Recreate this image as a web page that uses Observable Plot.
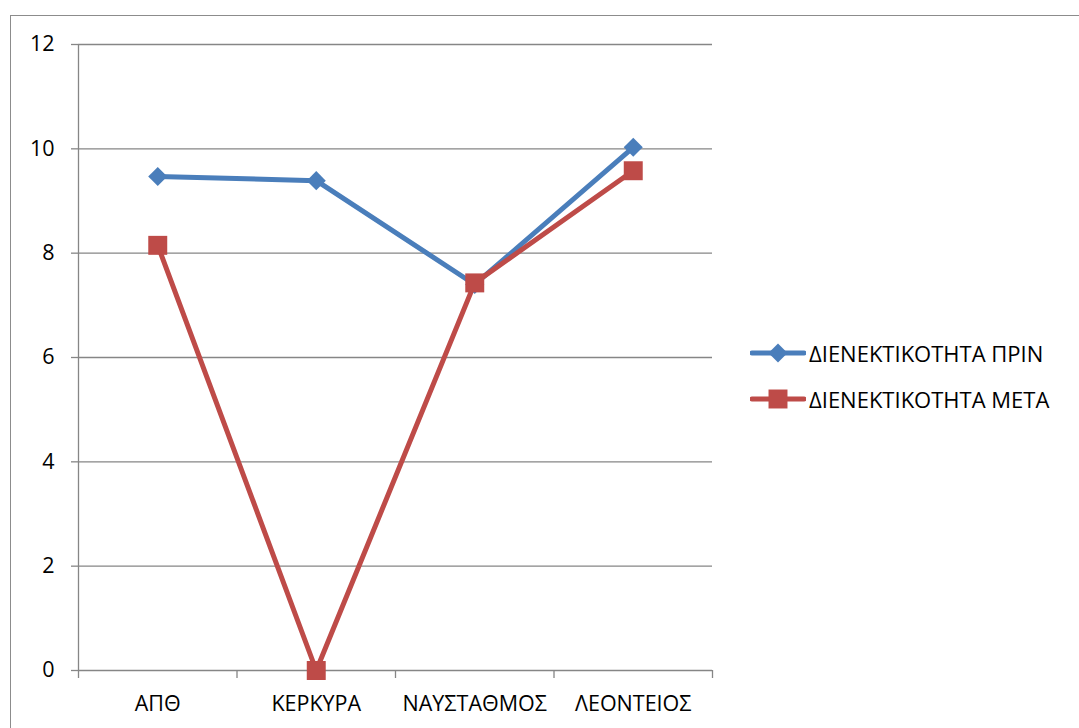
<!DOCTYPE html>
<html>
<head>
<meta charset="utf-8">
<script src="https://cdn.jsdelivr.net/npm/d3@7"></script>
<script src="https://cdn.jsdelivr.net/npm/@observablehq/plot@0.6"></script>
<style>
  html, body { margin: 0; padding: 0; background: #fff; overflow: hidden; }
  body { width: 1079px; height: 728px; position: relative; font-family: "Open Sans", "Noto Sans", sans-serif; }
  #frame { position: absolute; left: 10px; top: 15px; width: 1100px; height: 800px; border: 1.5px solid #8c8c8c; box-sizing: border-box; pointer-events: none; }
  #chart { position: absolute; left: 0; top: 0; }
  #chart svg text { font-size: 21.5px; fill: #000; }
  #legend { position: absolute; left: 750px; top: 338px; font-size: 22px; color: #000; }
  .item { display: flex; align-items: center; height: 30px; margin-bottom: 16px; white-space: nowrap; }
  .item svg { display: block; margin-right: 3px; }
</style>
</head>
<body>
<div id="chart"></div>
<div id="frame"></div>
<div id="legend"></div>
<script>
const categories = ["ΑΠΘ", "ΚΕΡΚΥΡΑ", "ΝΑΥΣΤΑΘΜΟΣ", "ΛΕΟΝΤΕΙΟΣ"];
const seriesNames = ["ΔΙΕΝΕΚΤΙΚΟΤΗΤΑ ΠΡΙΝ", "ΔΙΕΝΕΚΤΙΚΟΤΗΤΑ ΜΕΤΑ"];
const before = [9.47, 9.39, 7.4, 10.03];
const after = [8.15, 0, 7.43, 9.58];
const yTicks = [0, 2, 4, 6, 8, 10, 12];
const colors = ["#4a7ebb", "#be4b48"];
const symbols = ["diamond2", "square"];

const rows = [];
[before, after].forEach((vals, s) => vals.forEach((v, i) => rows.push({series: seriesNames[s], i, value: v})));
const idx = categories.map((_, i) => i);
const bounds = d3.range(-0.5, categories.length, 1);

const gray = "#868686";
const chart = Plot.plot({
  width: 1079,
  height: 728,
  marginLeft: 78,
  marginRight: 367,
  marginTop: 44,
  marginBottom: 58,
  style: {fontFamily: "'Open Sans', 'Noto Sans', sans-serif", fontSize: "21.5px", background: "transparent", color: "#000"},
  x: {type: "linear", domain: [-0.5, categories.length - 0.5], axis: null, label: null},
  y: {domain: [0, 12], axis: null, label: null},
  marks: [
    Plot.ruleY(yTicks.filter(d => d > 0), {stroke: gray, strokeWidth: 1.3}),
    Plot.ruleY([0], {stroke: gray, strokeWidth: 1.3}),
    Plot.ruleX([-0.5], {stroke: gray, strokeWidth: 1.3}),
    Plot.axisY({ticks: yTicks, tickSize: 7, tickPadding: 17, color: "#000", stroke: gray, strokeWidth: 1.3, label: null, tickFormat: d => d}),
    Plot.axisX({ticks: bounds, tickSize: 8, stroke: gray, strokeWidth: 1.3, label: null, tickFormat: () => ""}),
    Plot.axisX({ticks: idx, tickSize: 0, tickPadding: 25, color: "#000", label: null, tickFormat: i => categories[i]}),
    ...seriesNames.map((name, s) => Plot.line(rows.filter(r => r.series === name), {x: "i", y: "value", stroke: colors[s], strokeWidth: 5, strokeLinejoin: "round", strokeLinecap: "round"})),
    ...seriesNames.map((name, s) => Plot.dot(rows.filter(r => r.series === name), {x: "i", y: "value", symbol: () => symbols[s], fill: colors[s], stroke: "none", r: s === 0 ? 8.6 : 10.7}))
  ]
});
document.getElementById("chart").appendChild(chart);

// legend
const legend = d3.select("#legend");
seriesNames.forEach((name, s) => {
  const item = legend.append("div").attr("class", "item");
  const svg = item.append("svg").attr("width", 56).attr("height", 30);
  svg.append("line").attr("x1", 2).attr("x2", 54).attr("y1", 15).attr("y2", 15)
    .attr("stroke", colors[s]).attr("stroke-width", 5).attr("stroke-linecap", "round");
  const sym = s === 0 ? d3.symbol(d3.symbolDiamond2, Math.PI * 8.6 * 8.6) : d3.symbol(d3.symbolSquare, Math.PI * 10.7 * 10.7);
  svg.append("path").attr("d", sym()).attr("transform", "translate(28,15)").attr("fill", colors[s]);
  item.append("span").text(name);
});
</script>
</body>
</html>
